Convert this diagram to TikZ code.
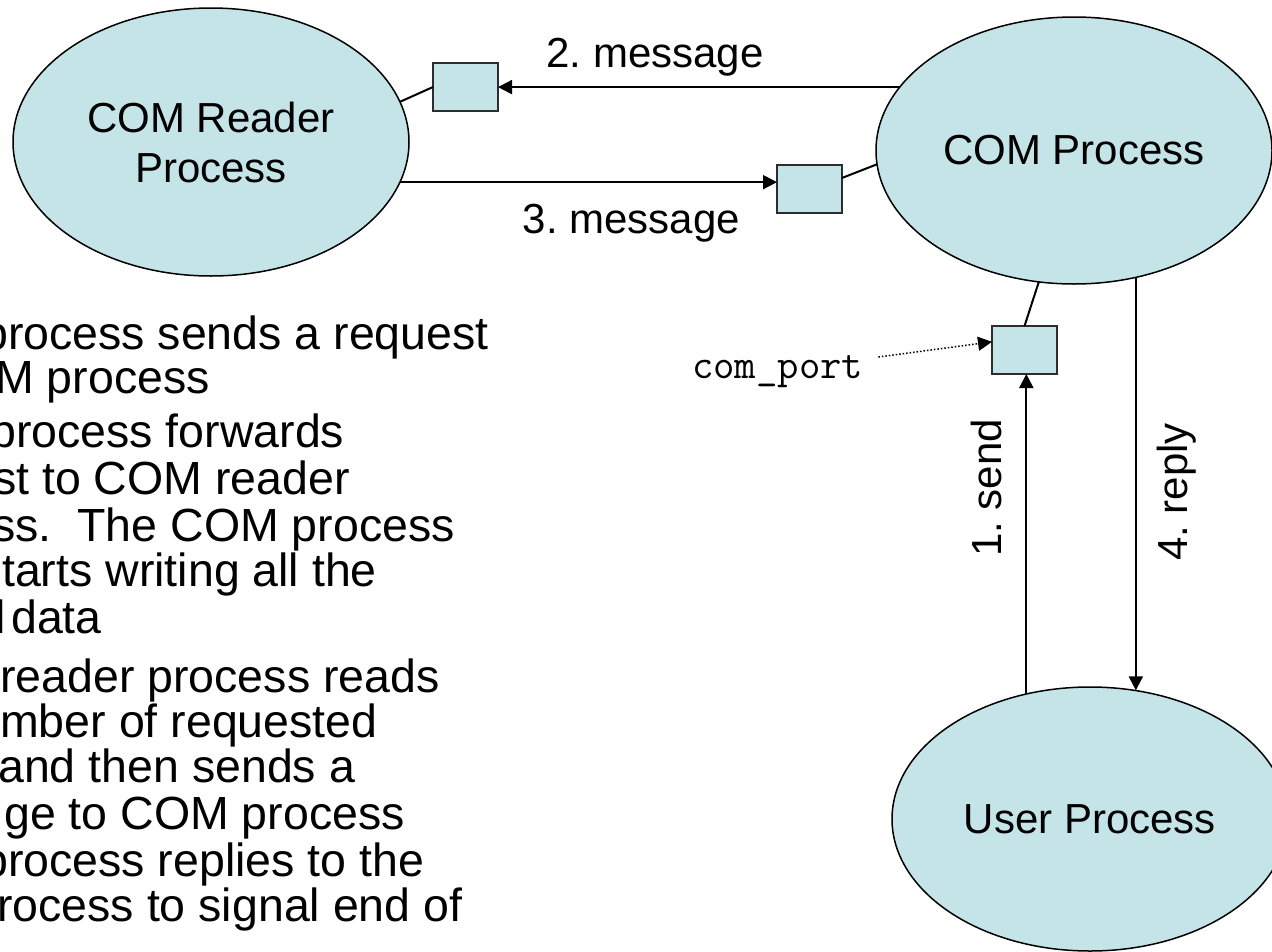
\documentclass[tikz,border=0pt]{standalone}
\usepackage{fontspec}
\setmainfont{Liberation Sans}
\usetikzlibrary{shapes.geometric,arrows.meta,calc}
\frenchspacing
\definecolor{procfill}{RGB}{196,228,232}
\definecolor{portedge}{RGB}{45,45,45}
\tikzset{
  proc/.style={ellipse, draw=black, line width=1.5pt, fill=procfill,
    inner sep=0pt, outer sep=0pt, align=center,
    font=\fontsize{42}{50}\selectfont},
  port/.style={rectangle, draw=portedge, line width=2.2pt, fill=procfill,
    minimum width=65pt, minimum height=48pt, inner sep=0pt, outer sep=0pt},
  link/.style={line width=2pt},
  flow/.style={line width=2pt, -{Triangle[length=14pt,width=14pt]}},
  hint/.style={line width=1.5pt, dash pattern=on 1.5pt off 2pt,
    -{Triangle[length=14pt,width=14pt]}},
  lbl/.style={font=\fontsize{42}{50}\selectfont, inner sep=0pt},
  note/.style={font=\fontsize{46.5}{46.5}\selectfont, anchor=base west, inner sep=0pt},
}
\begin{document}
\begin{tikzpicture}[x=1pt,y=-1pt]
  \useasboundingbox (0,0) rectangle (1272,951);
  \clip (0,0) rectangle (1272,951);

  % processes
  \node[proc, minimum width=396pt, minimum height=268pt] (cread) at (211,142) {COM Reader\\Process};
  \node[proc, minimum width=396pt, minimum height=267pt] (comp) at (1074,150.5) {COM Process};
  \node[proc, minimum width=396pt, minimum height=264pt] (user) at (1090,819) {User Process};

  % ports
  \node[port] (boxA) at (465.5,87) {};
  \node[port] (boxB) at (809.5,189) {};
  \node[port] (boxC) at (1024.5,350) {};

  % ports attached to their owners
  \draw[link] (cread.12.1) -- (boxA.west);
  \draw[link] ($(boxB.north east)!0.27!(boxB.south east)$) -- (comp.184.5);
  \draw[link] (boxC.north) -- (comp.255.6);

  % message flow
  \draw[flow] (comp.160.35) -- (comp.160.35 -| boxA.east);
  \draw[flow] (cread.-12.27) -- (cread.-12.27 -| boxB.west);
  \draw[flow] (user.117.13) -- (user.117.13 |- boxC.south);
  \draw[flow] (comp.-64.75) -- (comp.-64.75 |- user.71.13);

  % labels
  \node[lbl, anchor=base] (m2) at (655,67) {2. message};
  \node[lbl, anchor=base] (m3) at (631.5,233) {3. message};
  \node[lbl, anchor=base, rotate=90] (s1) at (1001,488) {1. send};
  \node[lbl, anchor=base, rotate=90] (r4) at (1187,492) {4. reply};

  \node[font=\fontsize{41.5}{44}\ttfamily, anchor=base west, inner sep=0pt] (cport) at (692,378) {com\_port};
  \draw[hint] ([shift={(15,-21)}]cport.base east) -- ($(boxC.north west)!0.33!(boxC.south west)$);

  % step list
  \node[note] (n1)  at (-18,349) {process sends a request};
  \node[note] (n2)  at (-5,393)  {M process};
  \node[note] (n3)  at (-10,447) {process forwards};
  \node[note] (n4)  at (-7,494)  {st to COM reader};
  \node[note] (n5)  at (-8,541)  {ss.\ \ The COM process};
  \node[note] (n6)  at (2,586)   {tarts writing all the};
  \node[note] (n7a) at (-5,633)  {l};
  \node[note] (n7)  at (11,633)  {data};
  \node[note] (n8)  at (0,692)   {reader process reads};
  \node[note] (n9)  at (0,737)   {mber of requested};
  \node[note] (n10) at (-2,782)  {and then sends a};
  \node[note] (n11) at (4,829)   {ge to COM process};
  \node[note] (n12) at (-18,876) {process replies to the};
  \node[note] (n13) at (-3,921)  {rocess to signal end of};
\end{tikzpicture}
\end{document}
